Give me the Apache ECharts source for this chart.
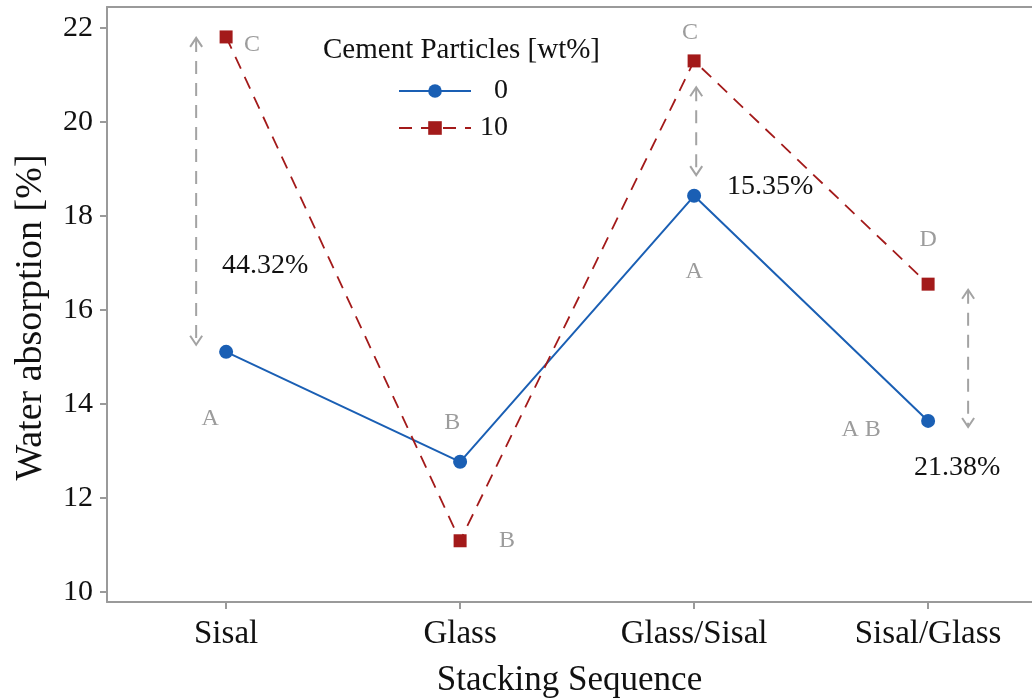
<!DOCTYPE html>
<html>
<head>
<meta charset="utf-8">
<script src="https://cdn.jsdelivr.net/npm/echarts@6/dist/echarts.min.js"></script>
<style>html,body{margin:0;padding:0;background:#fff;}#c{width:1032px;height:699px;}</style>
</head>
<body>
<div id="c"></div>
<script>
const categories = ['Sisal', 'Glass', 'Glass/Sisal', 'Sisal/Glass'];
const series0 = [15.11, 12.77, 18.43, 13.64];
const series10 = [21.81, 11.09, 21.30, 16.55];
const yTicks = [10, 12, 14, 16, 18, 20, 22];
const xTicks = [0, 1, 2, 3];
const yMin = 9.787, yMax = 22.447;
const xMin = -0.509, xMax = 3.444;

const letterText = ['C', 'A', 'B', 'B', 'C', 'A', 'D', 'A B'];
const letterX = [0.111, -0.068, 0.966, 1.2, 1.983, 2.0, 3.0, 2.714];
const letterY = [21.64, 13.68, 13.6, 11.09, 21.89, 16.81, 17.49, 13.45];

const pctText = ['44.32%', '15.35%', '21.38%'];
const pctX = [0.167, 2.325, 3.124];
const pctY = [16.94, 18.62, 12.64];

const arrowX = [-0.128, 2.009, 3.171];
const arrowLow = [15.26, 18.87, 13.51];
const arrowHigh = [21.79, 20.74, 16.43];

const FONT = "'Liberation Serif', 'Times New Roman', serif";
const GRAY = '#9a9a9a';
const BLUE = '#1a5fb4';
const RED = '#a31a1a';

function textSeries(xs, ys, texts, size, color) {
  return {
    type: 'custom', xAxisIndex: 0, yAxisIndex: 0, silent: true, z: 6,
    encode: { x: 0, y: 1 },
    data: xs.map((x, i) => [x, ys[i], i]),
    renderItem: function (params, api) {
      const p = api.coord([api.value(0), api.value(1)]);
      return {
        type: 'text', x: p[0], y: p[1],
        style: { text: texts[api.value(2)], fill: color, font: size + 'px ' + FONT, align: 'center', verticalAlign: 'middle' }
      };
    }
  };
}

const chart = echarts.init(document.getElementById('c'));
chart.setOption({
  animation: false,
  backgroundColor: '#fff',
  title: {
    text: 'Cement Particles [wt%]',
    left: 318, top: 31,
    textStyle: { fontFamily: FONT, fontSize: 29, fontWeight: 'normal', color: '#111' }
  },
  legend: {
    orient: 'vertical',
    left: 393, top: 72,
    itemWidth: 72, itemHeight: 17, itemGap: 9,
    data: ['0', '10'],
    formatter: n => '{a|' + n + '}',
    textStyle: {
      fontFamily: FONT, fontSize: 28, color: '#111',
      rich: { a: { fontFamily: FONT, fontSize: 28, width: 32, align: 'right', lineHeight: 28 } }
    }
  },
  grid: { left: 107, right: 0, top: 7, bottom: 97, show: false, outerBoundsMode: 'none', containLabel: false },
  xAxis: [{
    type: 'value', min: xMin, max: xMax, position: 'bottom',
    name: 'Stacking Sequence', nameLocation: 'middle', nameGap: 61,
    nameTextStyle: { fontFamily: FONT, fontSize: 35, color: '#111' },
    axisLine: { show: true, onZero: false, lineStyle: { color: GRAY, width: 2 } },
    axisTick: { show: true, length: 7, customValues: xTicks, lineStyle: { color: GRAY, width: 2 } },
    axisLabel: { customValues: xTicks, formatter: v => categories[Math.round(v)], fontFamily: FONT, fontSize: 33, color: '#111', margin: 16 },
    splitLine: { show: false }
  }, {
    type: 'value', min: xMin, max: xMax, position: 'top',
    axisLine: { show: true, onZero: false, lineStyle: { color: GRAY, width: 2 } },
    axisTick: { show: false }, axisLabel: { show: false }, splitLine: { show: false }
  }],
  yAxis: {
    type: 'value', min: yMin, max: yMax,
    name: 'Water absorption [%]', nameLocation: 'middle', nameGap: 57,
    nameTextStyle: { fontFamily: FONT, fontSize: 38, color: '#111', padding: [0, 26, 0, 0] },
    axisLine: { show: true, onZero: false, lineStyle: { color: GRAY, width: 2 } },
    axisTick: { show: true, length: 7, customValues: yTicks, lineStyle: { color: GRAY, width: 2 } },
    axisLabel: { customValues: yTicks, fontFamily: FONT, fontSize: 30, color: '#111', margin: 14 },
    splitLine: { show: false }
  },
  series: [
    {
      type: 'custom', xAxisIndex: 0, yAxisIndex: 0, silent: true, z: 1,
      encode: { x: 0, y: [1, 2] },
      data: arrowX.map((x, i) => [x, arrowLow[i], arrowHigh[i]]),
      renderItem: function (params, api) {
        const x = api.value(0), lo = api.value(1), hi = api.value(2);
        const p1 = api.coord([x, hi]), p2 = api.coord([x, lo]);
        const st = { stroke: '#a3a3a3', lineWidth: 2, fill: null };
        const a = 9, h = 6;
        return {
          type: 'group', children: [
            { type: 'line', shape: { x1: p1[0], y1: p1[1] + 1, x2: p2[0], y2: p2[1] - 1 }, style: Object.assign({ lineDash: [13, 9] }, st) },
            { type: 'polyline', shape: { points: [[p1[0] - h, p1[1] + a], [p1[0], p1[1]], [p1[0] + h, p1[1] + a]] }, style: st },
            { type: 'polyline', shape: { points: [[p2[0] - h, p2[1] - a], [p2[0], p2[1]], [p2[0] + h, p2[1] - a]] }, style: st }
          ]
        };
      }
    },
    {
      name: '0', type: 'line', data: series0.map((v, i) => [i, v]), symbol: 'circle', symbolSize: 14,
      itemStyle: { color: BLUE }, lineStyle: { color: BLUE, width: 2 }, z: 3
    },
    {
      name: '10', type: 'line', data: series10.map((v, i) => [i, v]), symbol: 'rect', symbolSize: 13,
      itemStyle: { color: RED }, lineStyle: { color: RED, width: 1.8, type: [13, 9] }, z: 4
    },
    textSeries(letterX, letterY, letterText, 24, '#9c9c9c'),
    textSeries(pctX, pctY, pctText, 28, '#111')
  ]
});
</script>
</body>
</html>
